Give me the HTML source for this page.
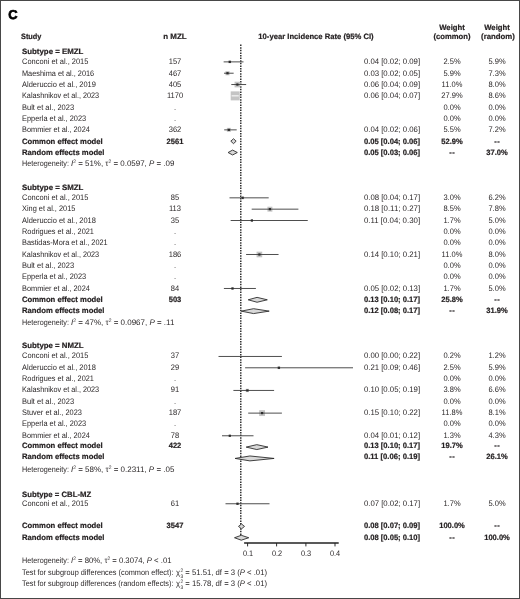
<!DOCTYPE html><html lang="en"><head><meta charset="utf-8"><title>Forest plot C</title><style>
html,body{margin:0;padding:0;background:#fff}
#fig{position:relative;width:520px;height:599px;overflow:hidden;background:#fff;font-family:"Liberation Sans",sans-serif;font-size:8.0px;color:#231f20;line-height:10.0px;text-rendering:geometricPrecision}
#fig .t{position:absolute;white-space:nowrap;height:10.0px;transform-origin:0 50%}
#fig .c{transform-origin:50% 50%}
#fig .b{font-weight:bold;font-size:7.75px;-webkit-text-stroke:0.2px #231f20}
#fig sup{font-size:5px;vertical-align:baseline;position:relative;top:-3px;line-height:0}
#fig sub{font-size:5px;vertical-align:baseline;position:relative;top:1.8px;line-height:0}
#fig .ss{display:inline-block;position:relative;width:3.3px;height:0;vertical-align:baseline}
#fig .ss sup{position:absolute;left:0.6px;top:auto;bottom:1.3px;line-height:5px}
#fig .ss sub{position:absolute;left:0.6px;top:-0.3px;line-height:5px}
#fig .dd{letter-spacing:0.7px;margin-right:-0.7px}
#fig svg{position:absolute;left:0;top:0}
#panel{position:absolute;left:8.3px;top:5px;font-size:12.9px;font-weight:bold;line-height:20px;height:20px;color:#000;-webkit-text-stroke:0.7px #000}
#frame{position:absolute;left:0;top:0;width:518px;height:597px;border:1px solid #474747}

</style></head><body><div id="fig">
<svg width="520" height="599" viewBox="0 0 520 599">
<line x1="240.8" y1="44.6" x2="240.8" y2="540.2" stroke="#111" stroke-width="1.3" stroke-dasharray="1.5 1.1"/>
<rect x="228.45" y="60.53" width="2.69" height="2.69" fill="#c4c4c4"/><line x1="223.65" y1="61.88" x2="243.50" y2="61.88" stroke="#444" stroke-width="0.95"/><rect x="228.70" y="60.78" width="2.2" height="2.2" fill="#2b2b2b"/>
<rect x="225.43" y="71.14" width="4.14" height="4.14" fill="#c4c4c4"/><line x1="224.00" y1="73.21" x2="233.65" y2="73.21" stroke="#444" stroke-width="0.95"/><rect x="226.40" y="72.11" width="2.2" height="2.2" fill="#2b2b2b"/>
<rect x="234.57" y="81.71" width="5.65" height="5.65" fill="#c4c4c4"/><line x1="231.30" y1="84.54" x2="246.15" y2="84.54" stroke="#444" stroke-width="0.95"/><rect x="236.30" y="83.44" width="2.2" height="2.2" fill="#2b2b2b"/>
<rect x="230.70" y="91.37" width="9.00" height="9.00" fill="#c4c4c4"/><line x1="231.60" y1="95.87" x2="238.80" y2="95.87" stroke="#fff" stroke-width="1"/>
<rect x="226.85" y="127.86" width="4.00" height="4.00" fill="#c4c4c4"/><line x1="224.20" y1="129.86" x2="236.70" y2="129.86" stroke="#444" stroke-width="0.95"/><rect x="227.75" y="128.76" width="2.2" height="2.2" fill="#2b2b2b"/>
<polygon points="230.80,141.19 233.50,138.74 236.15,141.19 233.50,143.64" fill="#d8d8d8" stroke="#222" stroke-width="0.85" stroke-linejoin="miter"/>
<polygon points="228.10,152.52 232.60,150.07 237.30,152.52 232.60,154.97" fill="#d8d8d8" stroke="#222" stroke-width="0.85" stroke-linejoin="miter"/>
<rect x="241.12" y="196.36" width="2.95" height="2.95" fill="#c4c4c4"/><line x1="229.50" y1="197.84" x2="268.70" y2="197.84" stroke="#444" stroke-width="0.95"/><rect x="241.50" y="196.74" width="2.2" height="2.2" fill="#2b2b2b"/>
<rect x="267.42" y="206.69" width="4.97" height="4.97" fill="#c4c4c4"/><line x1="251.70" y1="209.17" x2="298.40" y2="209.17" stroke="#444" stroke-width="0.95"/><rect x="268.80" y="208.07" width="2.2" height="2.2" fill="#2b2b2b"/>
<rect x="250.79" y="219.39" width="2.22" height="2.22" fill="#c4c4c4"/><line x1="230.65" y1="220.50" x2="307.75" y2="220.50" stroke="#444" stroke-width="0.95"/><rect x="250.80" y="219.40" width="2.2" height="2.2" fill="#2b2b2b"/>
<rect x="256.57" y="251.66" width="5.65" height="5.65" fill="#c4c4c4"/><line x1="246.10" y1="254.49" x2="278.55" y2="254.49" stroke="#444" stroke-width="0.95"/><rect x="258.30" y="253.39" width="2.2" height="2.2" fill="#2b2b2b"/>
<rect x="231.39" y="287.37" width="2.22" height="2.22" fill="#c4c4c4"/><line x1="223.90" y1="288.48" x2="255.90" y2="288.48" stroke="#444" stroke-width="0.95"/><rect x="231.40" y="287.38" width="2.2" height="2.2" fill="#2b2b2b"/>
<polygon points="248.20,299.81 257.05,297.36 267.30,299.81 257.05,302.26" fill="#d8d8d8" stroke="#222" stroke-width="0.85" stroke-linejoin="miter"/>
<polygon points="241.20,311.14 253.55,308.69 269.20,311.14 253.55,313.59" fill="#d8d8d8" stroke="#222" stroke-width="0.85" stroke-linejoin="miter"/>
<rect x="218.52" y="356.08" width="0.76" height="0.76" fill="#c4c4c4"/><line x1="218.60" y1="356.46" x2="281.90" y2="356.46" stroke="#444" stroke-width="0.95"/>
<rect x="277.55" y="366.44" width="2.69" height="2.69" fill="#c4c4c4"/><line x1="245.10" y1="367.79" x2="353.00" y2="367.79" stroke="#444" stroke-width="0.95"/><rect x="277.80" y="366.69" width="2.2" height="2.2" fill="#2b2b2b"/>
<rect x="245.69" y="388.79" width="3.32" height="3.32" fill="#c4c4c4"/><line x1="233.40" y1="390.45" x2="274.10" y2="390.45" stroke="#444" stroke-width="0.95"/><rect x="246.25" y="389.35" width="2.2" height="2.2" fill="#2b2b2b"/>
<rect x="259.17" y="410.18" width="5.85" height="5.85" fill="#c4c4c4"/><line x1="248.20" y1="413.11" x2="281.90" y2="413.11" stroke="#444" stroke-width="0.95"/><rect x="261.00" y="412.01" width="2.2" height="2.2" fill="#2b2b2b"/>
<rect x="228.83" y="434.80" width="1.94" height="1.94" fill="#c4c4c4"/><line x1="222.00" y1="435.77" x2="253.50" y2="435.77" stroke="#444" stroke-width="0.95"/><rect x="228.70" y="434.67" width="2.2" height="2.2" fill="#2b2b2b"/>
<polygon points="246.20,447.10 256.80,444.65 268.00,447.10 256.80,449.55" fill="#d8d8d8" stroke="#222" stroke-width="0.85" stroke-linejoin="miter"/>
<polygon points="235.10,458.43 249.90,455.98 274.10,458.43 249.90,460.88" fill="#d8d8d8" stroke="#222" stroke-width="0.85" stroke-linejoin="miter"/>
<rect x="236.39" y="502.64" width="2.22" height="2.22" fill="#c4c4c4"/><line x1="225.50" y1="503.75" x2="269.50" y2="503.75" stroke="#444" stroke-width="0.95"/><rect x="236.40" y="502.65" width="2.2" height="2.2" fill="#2b2b2b"/>
<polygon points="238.50,526.41 241.50,523.96 244.50,526.41 241.50,528.86" fill="#d8d8d8" stroke="#222" stroke-width="0.85" stroke-linejoin="miter"/>
<polygon points="234.50,537.74 241.25,535.29 248.75,537.74 241.25,540.19" fill="#d8d8d8" stroke="#222" stroke-width="0.85" stroke-linejoin="miter"/>
<line x1="244.1" y1="543.0" x2="338.7" y2="543.0" stroke="#222" stroke-width="1.5"/>
<line x1="247.60" y1="543.0" x2="247.60" y2="546.4" stroke="#222" stroke-width="0.95"/>
<line x1="276.60" y1="543.0" x2="276.60" y2="546.4" stroke="#222" stroke-width="0.95"/>
<line x1="305.90" y1="543.0" x2="305.90" y2="546.4" stroke="#222" stroke-width="0.95"/>
<line x1="335.00" y1="543.0" x2="335.00" y2="546.4" stroke="#222" stroke-width="0.95"/>
</svg>
<div class="t b" style="left:21.90px;top:47px;transform:scaleX(1.0149)">Subtype = EMZL</div>
<div class="t" style="left:21.70px;top:57px;transform:scaleX(0.9330)">Conconi et al., 2015</div>
<div class="t c" style="left:175.10px;top:57px;transform:translateX(-50%) scaleX(0.9400)">157</div>
<div class="t c" style="left:392.10px;top:57px;transform:translateX(-50%) scaleX(0.9718)">0.04 [0.02; 0.09]</div>
<div class="t c" style="left:451.70px;top:57px;transform:translateX(-50%) scaleX(0.9400)">2.5%</div>
<div class="t c" style="left:497.30px;top:57px;transform:translateX(-50%) scaleX(0.9400)">5.9%</div>
<div class="t" style="left:21.70px;top:69px;transform:scaleX(0.9172)">Maeshima et al., 2016</div>
<div class="t c" style="left:175.10px;top:69px;transform:translateX(-50%) scaleX(0.9400)">467</div>
<div class="t c" style="left:392.10px;top:69px;transform:translateX(-50%) scaleX(0.9718)">0.03 [0.02; 0.05]</div>
<div class="t c" style="left:451.70px;top:69px;transform:translateX(-50%) scaleX(0.9400)">5.9%</div>
<div class="t c" style="left:497.30px;top:69px;transform:translateX(-50%) scaleX(0.9400)">7.3%</div>
<div class="t" style="left:21.70px;top:80px;transform:scaleX(0.9334)">Alderuccio et al., 2019</div>
<div class="t c" style="left:175.10px;top:80px;transform:translateX(-50%) scaleX(0.9400)">405</div>
<div class="t c" style="left:392.10px;top:80px;transform:translateX(-50%) scaleX(0.9718)">0.06 [0.04; 0.09]</div>
<div class="t c" style="left:451.70px;top:80px;transform:translateX(-50%) scaleX(0.9400)">11.0%</div>
<div class="t c" style="left:497.30px;top:80px;transform:translateX(-50%) scaleX(0.9400)">8.0%</div>
<div class="t" style="left:21.70px;top:91px;transform:scaleX(0.9076)">Kalashnikov et al., 2023</div>
<div class="t c" style="left:175.10px;top:91px;transform:translateX(-50%) scaleX(0.9400)">1170</div>
<div class="t c" style="left:392.10px;top:91px;transform:translateX(-50%) scaleX(0.9718)">0.06 [0.04; 0.07]</div>
<div class="t c" style="left:451.70px;top:91px;transform:translateX(-50%) scaleX(0.9400)">27.9%</div>
<div class="t c" style="left:497.30px;top:91px;transform:translateX(-50%) scaleX(0.9400)">8.6%</div>
<div class="t" style="left:21.70px;top:103px;transform:scaleX(0.9372)">Bult et al., 2023</div>
<div class="t c" style="left:175.10px;top:103px;transform:translateX(-50%) scaleX(0.9400)">.</div>
<div class="t c" style="left:451.70px;top:103px;transform:translateX(-50%) scaleX(0.9400)">0.0%</div>
<div class="t c" style="left:497.30px;top:103px;transform:translateX(-50%) scaleX(0.9400)">0.0%</div>
<div class="t" style="left:21.70px;top:114px;transform:scaleX(0.9252)">Epperla et al., 2023</div>
<div class="t c" style="left:175.10px;top:114px;transform:translateX(-50%) scaleX(0.9400)">.</div>
<div class="t c" style="left:451.70px;top:114px;transform:translateX(-50%) scaleX(0.9400)">0.0%</div>
<div class="t c" style="left:497.30px;top:114px;transform:translateX(-50%) scaleX(0.9400)">0.0%</div>
<div class="t" style="left:21.70px;top:125px;transform:scaleX(0.9199)">Bommier et al., 2024</div>
<div class="t c" style="left:175.10px;top:125px;transform:translateX(-50%) scaleX(0.9400)">362</div>
<div class="t c" style="left:392.10px;top:125px;transform:translateX(-50%) scaleX(0.9718)">0.04 [0.02; 0.06]</div>
<div class="t c" style="left:451.70px;top:125px;transform:translateX(-50%) scaleX(0.9400)">5.5%</div>
<div class="t c" style="left:497.30px;top:125px;transform:translateX(-50%) scaleX(0.9400)">7.2%</div>
<div class="t b" style="left:21.70px;top:137px;transform:scaleX(0.9915)">Common effect model</div>
<div class="t c b" style="left:175.10px;top:137px;transform:translateX(-50%) scaleX(0.9750)">2561</div>
<div class="t c b" style="left:392.10px;top:137px;transform:translateX(-50%) scaleX(0.9806)">0.05 [0.04; 0.06]</div>
<div class="t c b" style="left:451.70px;top:137px;transform:translateX(-50%) scaleX(0.9750)">52.9%</div>
<div class="t c b" style="left:497.30px;top:137px;transform:translateX(-50%) scaleX(0.9750)"><span class="dd">--</span></div>
<div class="t b" style="left:21.70px;top:148px;transform:scaleX(0.9925)">Random effects model</div>
<div class="t c b" style="left:392.10px;top:148px;transform:translateX(-50%) scaleX(0.9806)">0.05 [0.03; 0.06]</div>
<div class="t c b" style="left:451.70px;top:148px;transform:translateX(-50%) scaleX(0.9750)"><span class="dd">--</span></div>
<div class="t c b" style="left:497.30px;top:148px;transform:translateX(-50%) scaleX(0.9750)">37.0%</div>
<div class="t" style="left:21.70px;top:159px;transform:scaleX(0.9014)">Heterogeneity:</div>
<div class="t" style="left:70.80px;top:159px;transform:scaleX(0.9927)"><i>I</i><sup>2</sup> = 51%, τ<sup>2</sup> = 0.0597, <i>P</i> = .09</div>
<div class="t b" style="left:21.90px;top:183px;transform:scaleX(1.0149)">Subtype = SMZL</div>
<div class="t" style="left:21.70px;top:193px;transform:scaleX(0.9330)">Conconi et al., 2015</div>
<div class="t c" style="left:175.10px;top:193px;transform:translateX(-50%) scaleX(0.9400)">85</div>
<div class="t c" style="left:392.10px;top:193px;transform:translateX(-50%) scaleX(0.9718)">0.08 [0.04; 0.17]</div>
<div class="t c" style="left:451.70px;top:193px;transform:translateX(-50%) scaleX(0.9400)">3.0%</div>
<div class="t c" style="left:497.30px;top:193px;transform:translateX(-50%) scaleX(0.9400)">6.2%</div>
<div class="t" style="left:21.70px;top:204px;transform:scaleX(0.9234)">Xing et al., 2015</div>
<div class="t c" style="left:175.10px;top:204px;transform:translateX(-50%) scaleX(0.9400)">113</div>
<div class="t c" style="left:392.10px;top:204px;transform:translateX(-50%) scaleX(0.9819)">0.18 [0.11; 0.27]</div>
<div class="t c" style="left:451.70px;top:204px;transform:translateX(-50%) scaleX(0.9400)">8.5%</div>
<div class="t c" style="left:497.30px;top:204px;transform:translateX(-50%) scaleX(0.9400)">7.8%</div>
<div class="t" style="left:21.70px;top:216px;transform:scaleX(0.9334)">Alderuccio et al., 2018</div>
<div class="t c" style="left:175.10px;top:216px;transform:translateX(-50%) scaleX(0.9400)">35</div>
<div class="t c" style="left:392.10px;top:216px;transform:translateX(-50%) scaleX(0.9819)">0.11 [0.04; 0.30]</div>
<div class="t c" style="left:451.70px;top:216px;transform:translateX(-50%) scaleX(0.9400)">1.7%</div>
<div class="t c" style="left:497.30px;top:216px;transform:translateX(-50%) scaleX(0.9400)">5.0%</div>
<div class="t" style="left:21.70px;top:227px;transform:scaleX(0.9185)">Rodrigues et al., 2021</div>
<div class="t c" style="left:175.10px;top:227px;transform:translateX(-50%) scaleX(0.9400)">.</div>
<div class="t c" style="left:451.70px;top:227px;transform:translateX(-50%) scaleX(0.9400)">0.0%</div>
<div class="t c" style="left:497.30px;top:227px;transform:translateX(-50%) scaleX(0.9400)">0.0%</div>
<div class="t" style="left:21.70px;top:238px;transform:scaleX(0.9177)">Bastidas-Mora et al., 2021</div>
<div class="t c" style="left:175.10px;top:238px;transform:translateX(-50%) scaleX(0.9400)">.</div>
<div class="t c" style="left:451.70px;top:238px;transform:translateX(-50%) scaleX(0.9400)">0.0%</div>
<div class="t c" style="left:497.30px;top:238px;transform:translateX(-50%) scaleX(0.9400)">0.0%</div>
<div class="t" style="left:21.70px;top:250px;transform:scaleX(0.9076)">Kalashnikov et al., 2023</div>
<div class="t c" style="left:175.10px;top:250px;transform:translateX(-50%) scaleX(0.9400)">186</div>
<div class="t c" style="left:392.10px;top:250px;transform:translateX(-50%) scaleX(0.9718)">0.14 [0.10; 0.21]</div>
<div class="t c" style="left:451.70px;top:250px;transform:translateX(-50%) scaleX(0.9400)">11.0%</div>
<div class="t c" style="left:497.30px;top:250px;transform:translateX(-50%) scaleX(0.9400)">8.0%</div>
<div class="t" style="left:21.70px;top:261px;transform:scaleX(0.9372)">Bult et al., 2023</div>
<div class="t c" style="left:175.10px;top:261px;transform:translateX(-50%) scaleX(0.9400)">.</div>
<div class="t c" style="left:451.70px;top:261px;transform:translateX(-50%) scaleX(0.9400)">0.0%</div>
<div class="t c" style="left:497.30px;top:261px;transform:translateX(-50%) scaleX(0.9400)">0.0%</div>
<div class="t" style="left:21.70px;top:272px;transform:scaleX(0.9252)">Epperla et al., 2023</div>
<div class="t c" style="left:175.10px;top:272px;transform:translateX(-50%) scaleX(0.9400)">.</div>
<div class="t c" style="left:451.70px;top:272px;transform:translateX(-50%) scaleX(0.9400)">0.0%</div>
<div class="t c" style="left:497.30px;top:272px;transform:translateX(-50%) scaleX(0.9400)">0.0%</div>
<div class="t" style="left:21.70px;top:284px;transform:scaleX(0.9199)">Bommier et al., 2024</div>
<div class="t c" style="left:175.10px;top:284px;transform:translateX(-50%) scaleX(0.9400)">84</div>
<div class="t c" style="left:392.10px;top:284px;transform:translateX(-50%) scaleX(0.9718)">0.05 [0.02; 0.13]</div>
<div class="t c" style="left:451.70px;top:284px;transform:translateX(-50%) scaleX(0.9400)">1.7%</div>
<div class="t c" style="left:497.30px;top:284px;transform:translateX(-50%) scaleX(0.9400)">5.0%</div>
<div class="t b" style="left:21.70px;top:295px;transform:scaleX(0.9915)">Common effect model</div>
<div class="t c b" style="left:175.10px;top:295px;transform:translateX(-50%) scaleX(0.9750)">503</div>
<div class="t c b" style="left:392.10px;top:295px;transform:translateX(-50%) scaleX(0.9806)">0.13 [0.10; 0.17]</div>
<div class="t c b" style="left:451.70px;top:295px;transform:translateX(-50%) scaleX(0.9750)">25.8%</div>
<div class="t c b" style="left:497.30px;top:295px;transform:translateX(-50%) scaleX(0.9750)"><span class="dd">--</span></div>
<div class="t b" style="left:21.70px;top:306px;transform:scaleX(0.9925)">Random effects model</div>
<div class="t c b" style="left:392.10px;top:306px;transform:translateX(-50%) scaleX(0.9806)">0.12 [0.08; 0.17]</div>
<div class="t c b" style="left:451.70px;top:306px;transform:translateX(-50%) scaleX(0.9750)"><span class="dd">--</span></div>
<div class="t c b" style="left:497.30px;top:306px;transform:translateX(-50%) scaleX(0.9750)">31.9%</div>
<div class="t" style="left:21.70px;top:318px;transform:scaleX(0.9014)">Heterogeneity:</div>
<div class="t" style="left:70.80px;top:318px;transform:scaleX(0.9984)"><i>I</i><sup>2</sup> = 47%, τ<sup>2</sup> = 0.0967, <i>P</i> = .11</div>
<div class="t b" style="left:21.90px;top:341px;transform:scaleX(1.0109)">Subtype = NMZL</div>
<div class="t" style="left:21.70px;top:351px;transform:scaleX(0.9330)">Conconi et al., 2015</div>
<div class="t c" style="left:175.10px;top:351px;transform:translateX(-50%) scaleX(0.9400)">37</div>
<div class="t c" style="left:392.10px;top:351px;transform:translateX(-50%) scaleX(0.9718)">0.00 [0.00; 0.22]</div>
<div class="t c" style="left:451.70px;top:351px;transform:translateX(-50%) scaleX(0.9400)">0.2%</div>
<div class="t c" style="left:497.30px;top:351px;transform:translateX(-50%) scaleX(0.9400)">1.2%</div>
<div class="t" style="left:21.70px;top:363px;transform:scaleX(0.9334)">Alderuccio et al., 2018</div>
<div class="t c" style="left:175.10px;top:363px;transform:translateX(-50%) scaleX(0.9400)">29</div>
<div class="t c" style="left:392.10px;top:363px;transform:translateX(-50%) scaleX(0.9718)">0.21 [0.09; 0.46]</div>
<div class="t c" style="left:451.70px;top:363px;transform:translateX(-50%) scaleX(0.9400)">2.5%</div>
<div class="t c" style="left:497.30px;top:363px;transform:translateX(-50%) scaleX(0.9400)">5.9%</div>
<div class="t" style="left:21.70px;top:374px;transform:scaleX(0.9185)">Rodrigues et al., 2021</div>
<div class="t c" style="left:175.10px;top:374px;transform:translateX(-50%) scaleX(0.9400)">.</div>
<div class="t c" style="left:451.70px;top:374px;transform:translateX(-50%) scaleX(0.9400)">0.0%</div>
<div class="t c" style="left:497.30px;top:374px;transform:translateX(-50%) scaleX(0.9400)">0.0%</div>
<div class="t" style="left:21.70px;top:385px;transform:scaleX(0.9076)">Kalashnikov et al., 2023</div>
<div class="t c" style="left:175.10px;top:385px;transform:translateX(-50%) scaleX(0.9400)">91</div>
<div class="t c" style="left:392.10px;top:385px;transform:translateX(-50%) scaleX(0.9718)">0.10 [0.05; 0.19]</div>
<div class="t c" style="left:451.70px;top:385px;transform:translateX(-50%) scaleX(0.9400)">3.8%</div>
<div class="t c" style="left:497.30px;top:385px;transform:translateX(-50%) scaleX(0.9400)">6.6%</div>
<div class="t" style="left:21.70px;top:397px;transform:scaleX(0.9372)">Bult et al., 2023</div>
<div class="t c" style="left:175.10px;top:397px;transform:translateX(-50%) scaleX(0.9400)">.</div>
<div class="t c" style="left:451.70px;top:397px;transform:translateX(-50%) scaleX(0.9400)">0.0%</div>
<div class="t c" style="left:497.30px;top:397px;transform:translateX(-50%) scaleX(0.9400)">0.0%</div>
<div class="t" style="left:21.70px;top:408px;transform:scaleX(0.9224)">Stuver et al., 2023</div>
<div class="t c" style="left:175.10px;top:408px;transform:translateX(-50%) scaleX(0.9400)">187</div>
<div class="t c" style="left:392.10px;top:408px;transform:translateX(-50%) scaleX(0.9718)">0.15 [0.10; 0.22]</div>
<div class="t c" style="left:451.70px;top:408px;transform:translateX(-50%) scaleX(0.9400)">11.8%</div>
<div class="t c" style="left:497.30px;top:408px;transform:translateX(-50%) scaleX(0.9400)">8.1%</div>
<div class="t" style="left:21.70px;top:419px;transform:scaleX(0.9252)">Epperla et al., 2023</div>
<div class="t c" style="left:175.10px;top:419px;transform:translateX(-50%) scaleX(0.9400)">.</div>
<div class="t c" style="left:451.70px;top:419px;transform:translateX(-50%) scaleX(0.9400)">0.0%</div>
<div class="t c" style="left:497.30px;top:419px;transform:translateX(-50%) scaleX(0.9400)">0.0%</div>
<div class="t" style="left:21.70px;top:431px;transform:scaleX(0.9199)">Bommier et al., 2024</div>
<div class="t c" style="left:175.10px;top:431px;transform:translateX(-50%) scaleX(0.9400)">78</div>
<div class="t c" style="left:392.10px;top:431px;transform:translateX(-50%) scaleX(0.9718)">0.04 [0.01; 0.12]</div>
<div class="t c" style="left:451.70px;top:431px;transform:translateX(-50%) scaleX(0.9400)">1.3%</div>
<div class="t c" style="left:497.30px;top:431px;transform:translateX(-50%) scaleX(0.9400)">4.3%</div>
<div class="t b" style="left:21.70px;top:441px;transform:scaleX(0.9915)">Common effect model</div>
<div class="t c b" style="left:175.10px;top:441px;transform:translateX(-50%) scaleX(0.9750)">422</div>
<div class="t c b" style="left:392.10px;top:441px;transform:translateX(-50%) scaleX(0.9806)">0.13 [0.10; 0.17]</div>
<div class="t c b" style="left:451.70px;top:441px;transform:translateX(-50%) scaleX(0.9750)">19.7%</div>
<div class="t c b" style="left:497.30px;top:441px;transform:translateX(-50%) scaleX(0.9750)"><span class="dd">--</span></div>
<div class="t b" style="left:21.70px;top:452px;transform:scaleX(0.9925)">Random effects model</div>
<div class="t c b" style="left:392.10px;top:452px;transform:translateX(-50%) scaleX(0.9881)">0.11 [0.06; 0.19]</div>
<div class="t c b" style="left:451.70px;top:452px;transform:translateX(-50%) scaleX(0.9750)"><span class="dd">--</span></div>
<div class="t c b" style="left:497.30px;top:452px;transform:translateX(-50%) scaleX(0.9750)">26.1%</div>
<div class="t" style="left:21.70px;top:465px;transform:scaleX(0.9014)">Heterogeneity:</div>
<div class="t" style="left:70.80px;top:465px;transform:scaleX(0.9984)"><i>I</i><sup>2</sup> = 58%, τ<sup>2</sup> = 0.2311, <i>P</i> = .05</div>
<div class="t b" style="left:21.90px;top:490px;transform:scaleX(1.0013)">Subtype = CBL-MZ</div>
<div class="t" style="left:21.70px;top:499px;transform:scaleX(0.9330)">Conconi et al., 2015</div>
<div class="t c" style="left:175.10px;top:499px;transform:translateX(-50%) scaleX(0.9400)">61</div>
<div class="t c" style="left:392.10px;top:499px;transform:translateX(-50%) scaleX(0.9718)">0.07 [0.02; 0.17]</div>
<div class="t c" style="left:451.70px;top:499px;transform:translateX(-50%) scaleX(0.9400)">1.7%</div>
<div class="t c" style="left:497.30px;top:499px;transform:translateX(-50%) scaleX(0.9400)">5.0%</div>
<div class="t b" style="left:21.70px;top:521px;transform:scaleX(0.9915)">Common effect model</div>
<div class="t c b" style="left:175.10px;top:521px;transform:translateX(-50%) scaleX(0.9750)">3547</div>
<div class="t c b" style="left:392.10px;top:521px;transform:translateX(-50%) scaleX(0.9806)">0.08 [0.07; 0.09]</div>
<div class="t c b" style="left:451.70px;top:521px;transform:translateX(-50%) scaleX(0.9750)">100.0%</div>
<div class="t c b" style="left:497.30px;top:521px;transform:translateX(-50%) scaleX(0.9750)"><span class="dd">--</span></div>
<div class="t b" style="left:21.70px;top:533px;transform:scaleX(0.9925)">Random effects model</div>
<div class="t c b" style="left:392.10px;top:533px;transform:translateX(-50%) scaleX(0.9806)">0.08 [0.05; 0.10]</div>
<div class="t c b" style="left:451.70px;top:533px;transform:translateX(-50%) scaleX(0.9750)"><span class="dd">--</span></div>
<div class="t c b" style="left:497.30px;top:533px;transform:translateX(-50%) scaleX(0.9750)">100.0%</div>
<div class="t" style="left:21.70px;top:556px;transform:scaleX(0.9014)">Heterogeneity:</div>
<div class="t" style="left:70.80px;top:556px;transform:scaleX(0.9649)"><i>I</i><sup>2</sup> = 80%, τ<sup>2</sup> = 0.3074, <i>P</i> &lt; .01</div>
<div class="t" style="left:21.70px;top:568px;transform:scaleX(0.9175)">Test for subgroup differences (common effect):</div>
<div class="t" style="left:176.30px;top:568px;transform:scaleX(0.9633)">χ<span class="ss"><sup>2</sup><sub>3</sub></span> = 51.51, df = 3 (<i>P</i> &lt; .01)</div>
<div class="t" style="left:21.70px;top:579px;transform:scaleX(0.9150)">Test for subgroup differences (random effects):</div>
<div class="t" style="left:176.30px;top:579px;transform:scaleX(0.9633)">χ<span class="ss"><sup>2</sup><sub>3</sub></span> = 15.78, df = 3 (<i>P</i> &lt; .01)</div>
<div class="t b" style="left:20.65px;top:32px;transform:scaleX(0.9475)">Study</div>
<div class="t c b" style="left:175.10px;top:32px;transform:translateX(-50%) scaleX(1.0258)">n MZL</div>
<div class="t c b" style="left:315.50px;top:32px;transform:translateX(-50%) scaleX(0.9877)">10-year Incidence Rate (95% CI)</div>
<div class="t c b" style="left:451.90px;top:23px;transform:translateX(-50%) scaleX(0.9927)">Weight</div>
<div class="t c b" style="left:451.50px;top:32px;transform:translateX(-50%) scaleX(0.9875)">(common)</div>
<div class="t c b" style="left:497.20px;top:23px;transform:translateX(-50%) scaleX(0.9927)">Weight</div>
<div class="t c b" style="left:497.60px;top:32px;transform:translateX(-50%) scaleX(1.0061)">(random)</div>
<div class="t c" style="left:247.60px;top:549px;transform:translateX(-50%) scaleX(0.9169)">0.1</div>
<div class="t c" style="left:276.60px;top:549px;transform:translateX(-50%) scaleX(0.9169)">0.2</div>
<div class="t c" style="left:305.90px;top:549px;transform:translateX(-50%) scaleX(0.9169)">0.3</div>
<div class="t c" style="left:335.00px;top:549px;transform:translateX(-50%) scaleX(0.9169)">0.4</div>
<div id="panel">C</div><div id="frame"></div>
</div></body></html>
